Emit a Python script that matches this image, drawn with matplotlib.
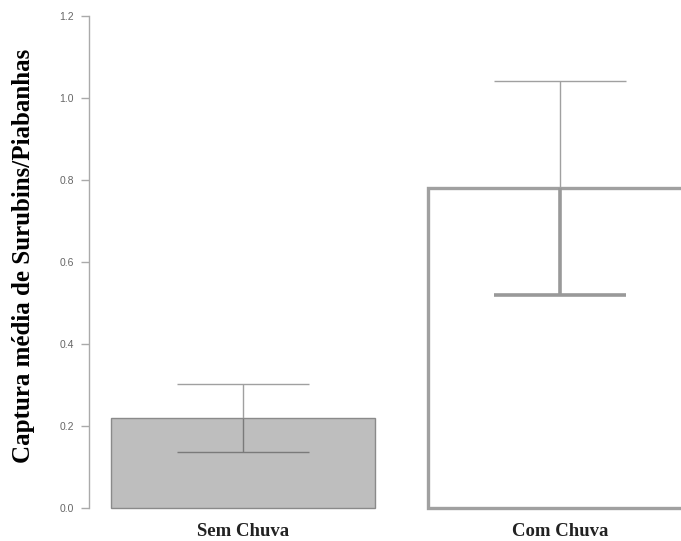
import matplotlib.pyplot as plt
import numpy as np

# valores
categorias = ["Sem Chuva", "Com Chuva"]
medias = [0.22, 0.781]
erros = [0.083, 0.261]
yticks = [0.0, 0.2, 0.4, 0.6, 0.8, 1.0, 1.2]

W, H = 681, 541
fig = plt.figure(figsize=(W / 100, H / 100), dpi=100)
ax = fig.add_axes([89 / W, (H - 508) / H, (W - 89) / W, (508 - 16) / H])

pos = np.array([0.0, 1.2])
ax.bar(pos[0], medias[0], width=1.0, color="#bebebe", edgecolor="#8a8a8a",
       linewidth=1.0, clip_on=False, zorder=2)
ax.bar(pos[1], medias[1], width=1.0, color="white", edgecolor="#a0a0a0",
       linewidth=2.4, clip_on=False, zorder=2)

# barras de erro (parte de cima fina, parte de baixo)
cap = 0.25
for i, (x, m, e) in enumerate(zip(pos, medias, erros)):
    ax.vlines(x, m, m + e, color="#a0a0a0", linewidth=1.0, zorder=3)
    ax.hlines(m + e, x - cap, x + cap, color="#a0a0a0", linewidth=1.0, zorder=3)
    lw = 1.0 if i == 0 else 2.6
    cor = "#7a7a7a" if i == 0 else "#999999"
    ax.vlines(x, m - e, m, color=cor, linewidth=lw, zorder=3)
    ax.hlines(m - e, x - cap, x + cap, color=cor, linewidth=lw, zorder=3)

ax.set_xlim((89 - 243) / 264, (W - 243) / 264)
ax.set_ylim(0, 1.2)

for s in ["top", "right", "bottom"]:
    ax.spines[s].set_visible(False)
ax.spines["left"].set_color("#aaaaaa")
ax.spines["left"].set_linewidth(1.0)

ax.set_yticks(yticks)
ax.set_yticklabels([f"{v:.1f}" for v in yticks], fontsize=7.5, color="#666666",
                   family="Liberation Sans")
ax.tick_params(axis="y", length=6, color="#aaaaaa", width=1.0, pad=5)
ax.set_xticks([])

for x, c in zip(pos, categorias):
    ax.text(x, -0.057, c, ha="center", va="center", fontsize=13.5,
            fontweight="bold", family="Liberation Serif", color="#222222")

fig.text(24 / W, 1 - 256 / H, "Captura média de Surubins/Piabanhas",
         rotation=90, ha="center", va="center", fontsize=18,
         fontweight="bold", family="Liberation Serif", color="black")

fig.savefig("out.png", dpi=100)
